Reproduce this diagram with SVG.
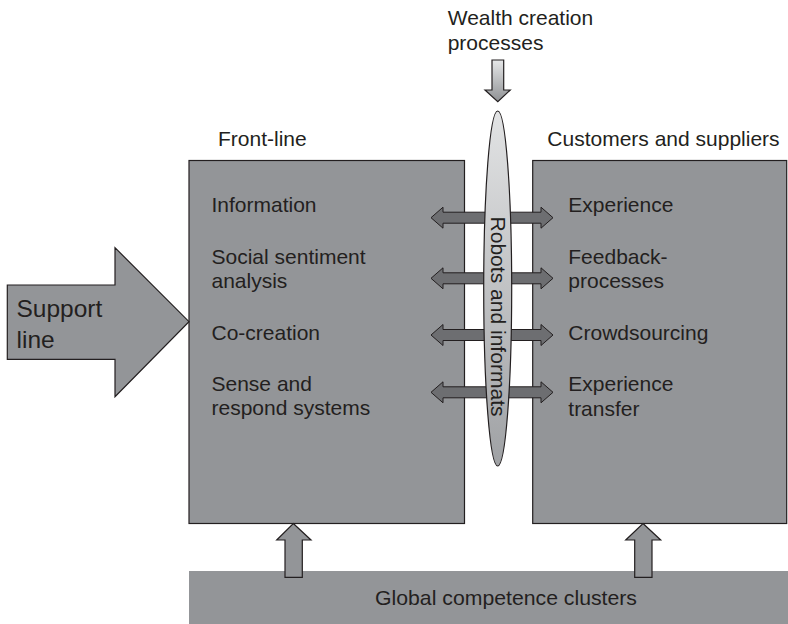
<svg xmlns="http://www.w3.org/2000/svg" width="788" height="624" viewBox="0 0 788 624">
<style>
.box{fill:#939598;stroke:#231f20;stroke-width:1.2}
.bar{fill:#939598;stroke:none}
.arr{fill:#939598;stroke:#231f20;stroke-width:1.2;stroke-linejoin:miter}
.dbl{fill:#6d6e71;stroke:#231f20;stroke-width:1}
text{font-family:"Liberation Sans",Arial,sans-serif;fill:#231f20;font-size:21px}
.big{font-size:24.5px}
</style>
<defs>
<linearGradient id="gEll" x1="0" y1="0" x2="0" y2="1">
<stop offset="0" stop-color="#e2e3e4"/>
<stop offset="1" stop-color="#9fa1a4"/>
</linearGradient>
<linearGradient id="gDown" x1="0" y1="0" x2="0" y2="1">
<stop offset="0" stop-color="#e6e7e8"/>
<stop offset="1" stop-color="#8f9194"/>
</linearGradient>
</defs>

<g id="global-competence">
<rect class="bar" x="189" y="571" width="599" height="53"/>
<text x="375" y="605" textLength="262" lengthAdjust="spacingAndGlyphs">Global competence clusters</text>
</g>

<g id="front-line">
<rect class="box" x="189" y="160.5" width="275.5" height="363"/>
<text x="218" y="145.5">Front-line</text>
<text x="211.5" y="211.5">Information</text>
<text x="211.5" y="263.5">Social sentiment</text>
<text x="211.5" y="288">analysis</text>
<text x="211.5" y="339.5">Co-creation</text>
<text x="211.5" y="390.5">Sense and</text>
<text x="211.5" y="415">respond systems</text>
</g>

<g id="customers-suppliers">
<rect class="box" x="532.7" y="160.5" width="254" height="363"/>
<text x="547.3" y="145.5">Customers and suppliers</text>
<text x="568.3" y="211.5">Experience</text>
<text x="568.3" y="263.5">Feedback-</text>
<text x="568.3" y="288">processes</text>
<text x="568.3" y="340">Crowdsourcing</text>
<text x="568.3" y="391">Experience</text>
<text x="568.3" y="415.5">transfer</text>
</g>

<g id="support-line">
<path class="arr" d="M7.3,285 L115,285 L115,247.7 L189,321.7 L115,396.7 L115,359.3 L7.3,359.3 Z"/>
<text class="big" x="16.5" y="316.5">Support</text>
<text class="big" x="16.5" y="348">line</text>
</g>

<g id="connectors">
<path class="arr" d="M293.3,523.5 L311,540 L302.3,540 L302.3,577.3 L285,577.3 L285,540 L276.7,540 Z"/>
<path class="arr" d="M643,523.5 L660.7,540 L652,540 L652,577.3 L634.7,577.3 L634.7,540 L625.7,540 Z"/>
<path class="arr" style="fill:url(#gDown)" d="M492,60 L503.7,60 L503.7,90 L510.3,90 L497.8,101.7 L485,90 L492,90 Z"/>
<path class="dbl" d="M431,217.7 L443,207.2 L443,212.2 L541,212.2 L541,207.2 L553,217.7 L541,228.2 L541,223.2 L443,223.2 L443,228.2 Z"/>
<path class="dbl" d="M431,278.3 L443,267.8 L443,272.8 L541,272.8 L541,267.8 L553,278.3 L541,288.8 L541,283.8 L443,283.8 L443,288.8 Z"/>
<path class="dbl" d="M431,335 L443,324.5 L443,329.5 L541,329.5 L541,324.5 L553,335 L541,345.5 L541,340.5 L443,340.5 L443,345.5 Z"/>
<path class="dbl" d="M431,392.3 L443,381.8 L443,386.8 L541,386.8 L541,381.8 L553,392.3 L541,402.8 L541,397.8 L443,397.8 L443,402.8 Z"/>
</g>

<g id="wealth-creation">
<text x="447.7" y="25">Wealth creation</text>
<text x="447.7" y="49.5">processes</text>
</g>

<g id="robots-informats">
<ellipse cx="497.7" cy="288.5" rx="14" ry="177.5" fill="url(#gEll)" stroke="#231f20" stroke-width="1.2"/>
<text x="0" y="0" transform="translate(490.5,216.5) rotate(90)" textLength="200" lengthAdjust="spacingAndGlyphs">Robots and informats</text>
</g>
</svg>
